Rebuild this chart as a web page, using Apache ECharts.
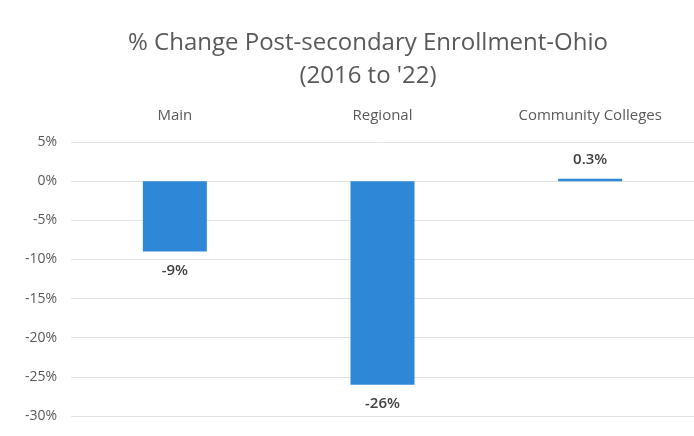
<!DOCTYPE html>
<html>
<head>
<meta charset="utf-8">
<script src="https://cdn.jsdelivr.net/npm/echarts@6/dist/echarts.min.js"></script>
<style>
  html, body { margin: 0; padding: 0; background: #fff; }
  #chart { width: 694px; height: 436px; }
</style>
</head>
<body>
<div id="chart"></div>
<script>
// Enrollment change by campus type, 2016 to 2022 (percent)
const categories = ['Main', 'Regional', 'Community Colleges'];
const changePct = [-9, -26, 0.3];
const valueLabels = ['-9%', '-26%', '0.3%'];
const titleLines = ['% Change Post-secondary Enrollment-Ohio', "(2016 to '22)"];

const FONT = '"Open Sans", Lato, sans-serif';
const chart = echarts.init(document.getElementById('chart'));

chart.setOption({
  animation: false,
  backgroundColor: '#ffffff',
  title: {
    text: titleLines.join('\n'),
    left: 363,
    top: 22,
    textAlign: 'center',
    textStyle: {
      fontFamily: FONT,
      fontSize: 24,
      fontWeight: 'normal',
      color: '#595959',
      lineHeight: 33
    }
  },
  grid: { left: 71, right: 0, top: 142, bottom: 20 },
  xAxis: {
    type: 'category',
    position: 'top',
    data: categories,
    axisLine: { show: false },
    axisTick: { show: false },
    axisLabel: {
      margin: 19,
      fontFamily: FONT,
      fontSize: 15,
      color: '#595959'
    }
  },
  yAxis: {
    type: 'value',
    min: -30,
    max: 5,
    interval: 5,
    axisLine: { show: false },
    axisTick: { show: false },
    splitLine: { lineStyle: { color: '#e3e3e3', width: 1 } },
    axisLabel: {
      margin: 14,
      fontFamily: FONT,
      fontSize: 14,
      color: '#595959',
      formatter: v => v + '%'
    }
  },
  series: [{
    type: 'bar',
    data: changePct,
    barWidth: 64,
    itemStyle: { color: '#2e87d7' },
    label: {
      show: true,
      position: 'outside',
      distance: 12,
      fontFamily: FONT,
      fontSize: 15,
      fontWeight: 600,
      color: '#404040',
      formatter: p => valueLabels[p.dataIndex]
    }
  }]
});
</script>
</body>
</html>
